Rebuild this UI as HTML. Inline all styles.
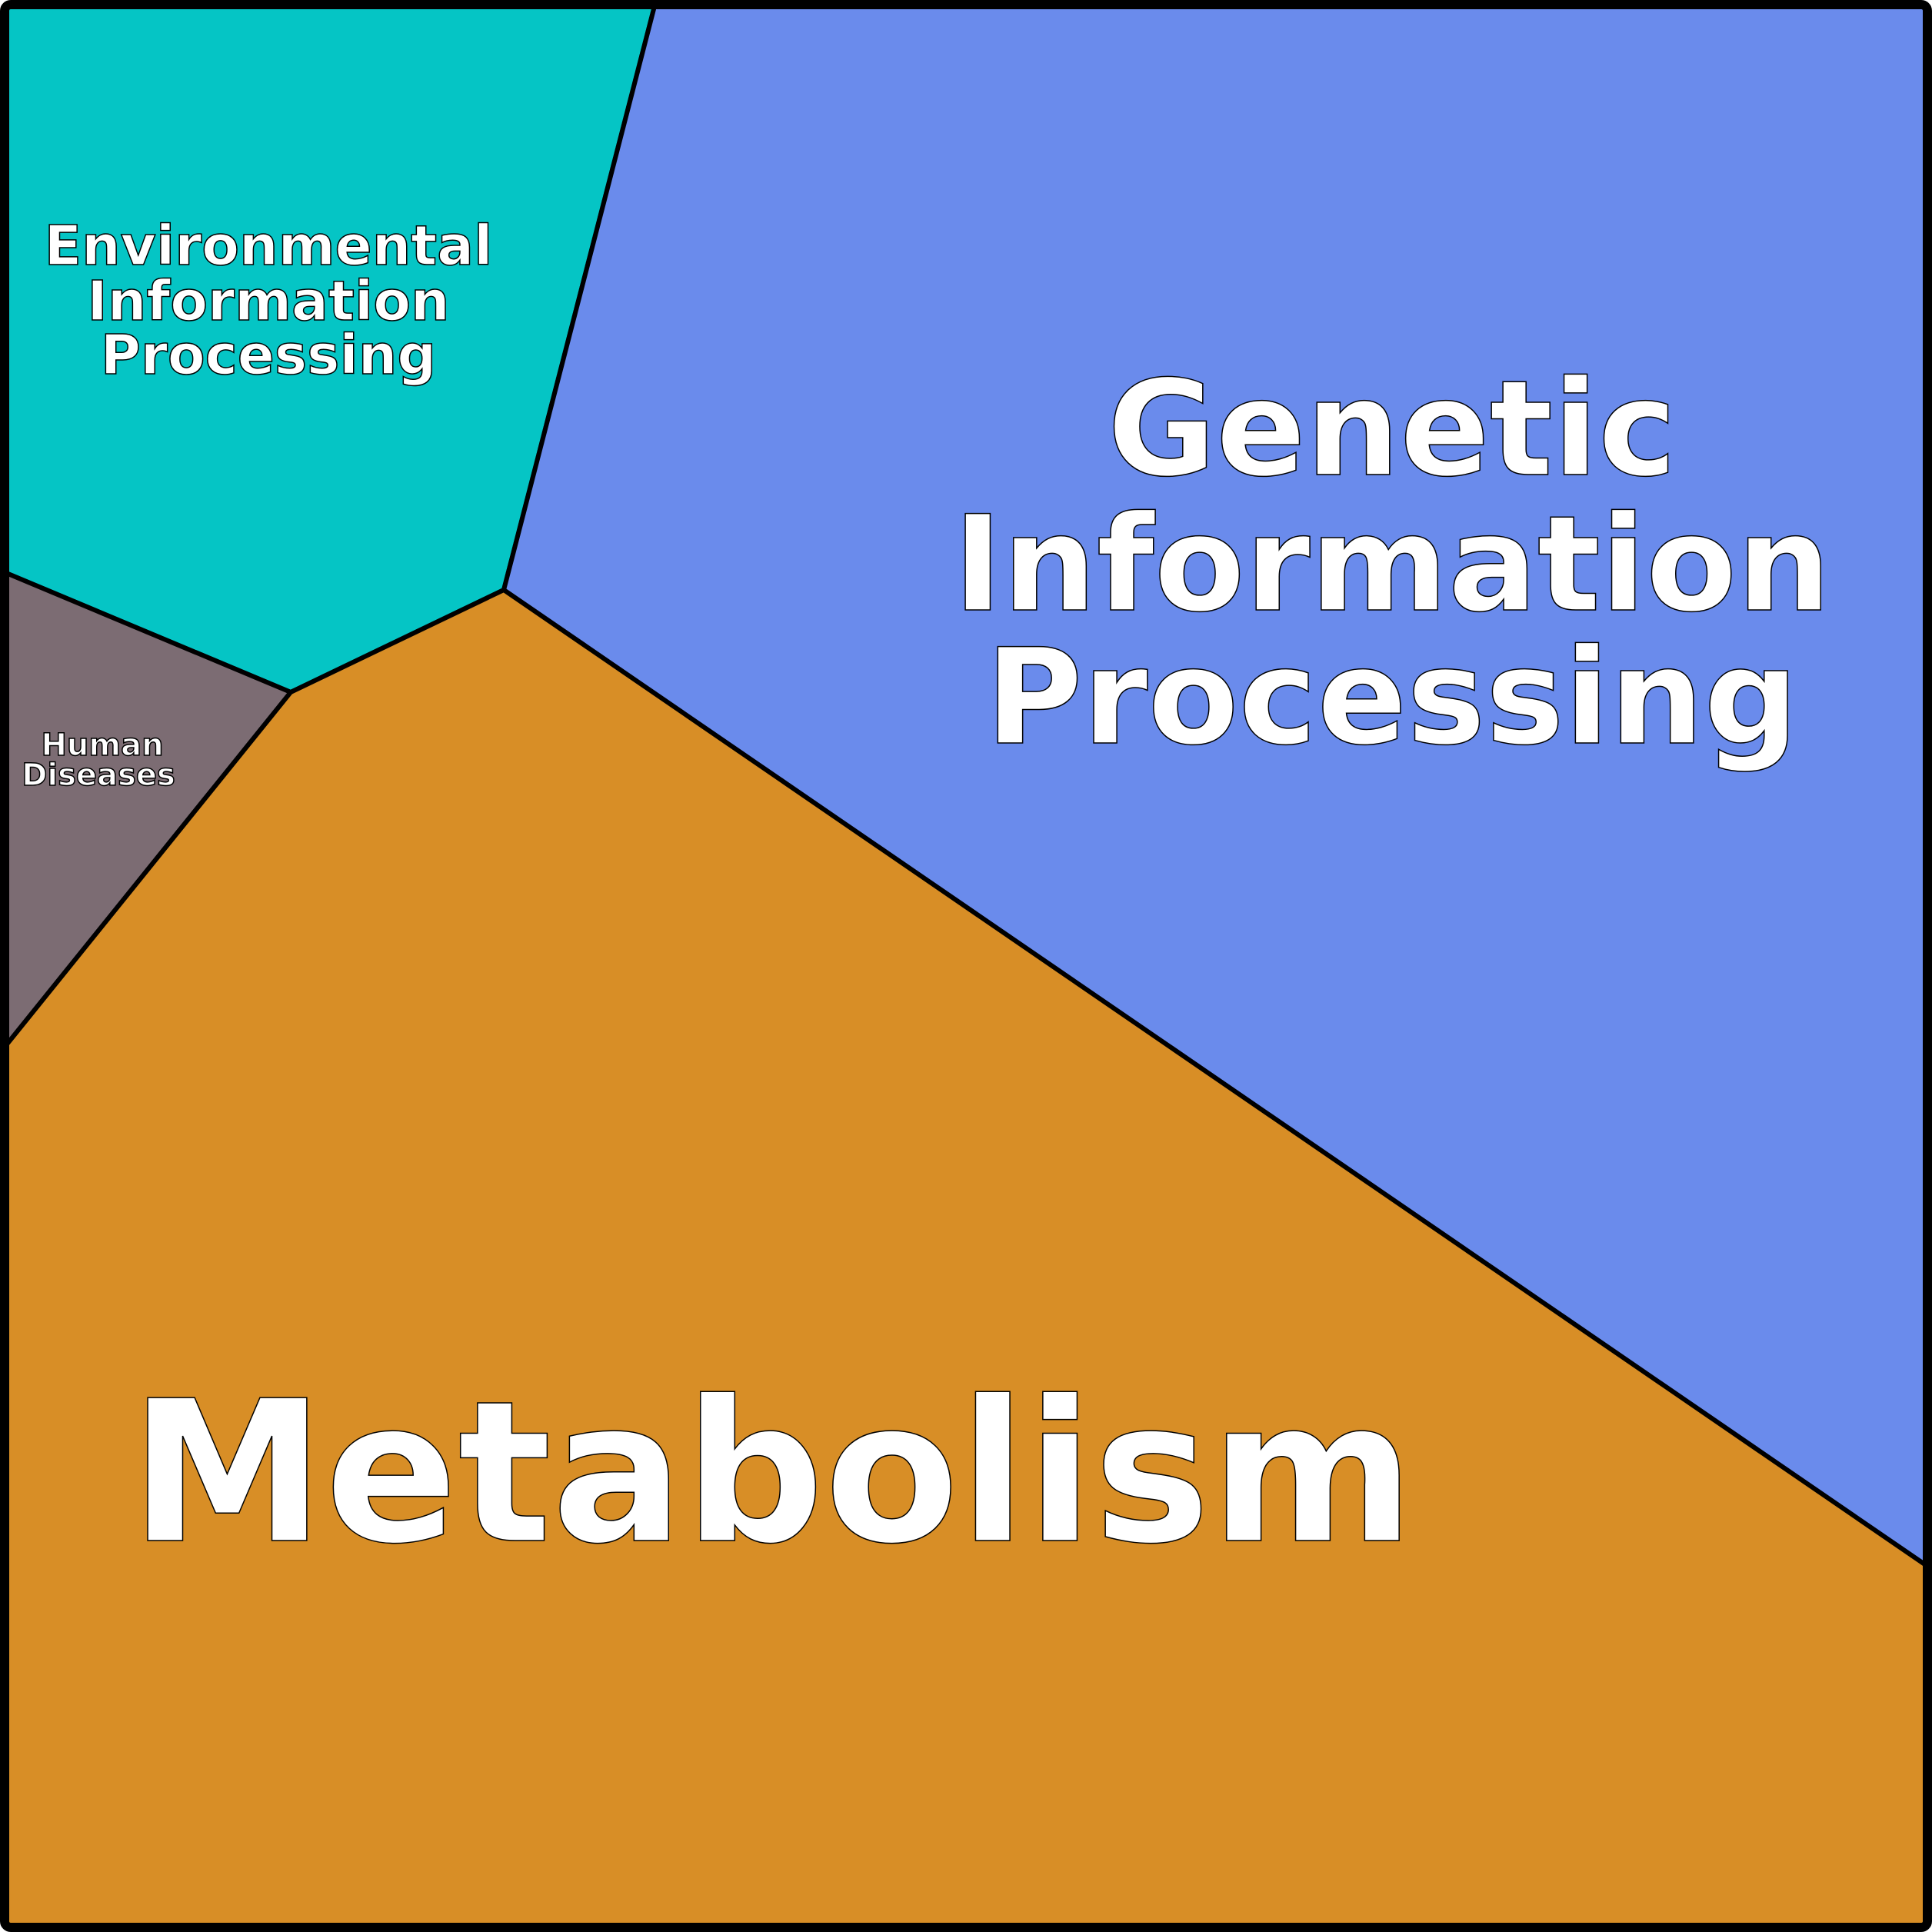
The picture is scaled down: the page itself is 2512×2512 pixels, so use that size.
<!DOCTYPE html>
<html><head><meta charset="utf-8"><style>html,body{margin:0;padding:0;background:#fff}svg{display:block}</style></head>
<body>
<svg width="2512" height="2512" viewBox="0 0 2512 2512" xmlns="http://www.w3.org/2000/svg">
<g stroke="#000" stroke-width="6" stroke-linejoin="round">
<polygon points="8,8 851,8 655,767 378,900 8,745" fill="#05C5C5"/>
<polygon points="851,8 2504,8 2504,2035 655,767" fill="#6A8BEC"/>
<polygon points="8,745 378,900 8,1359" fill="#7C6C73"/>
<polygon points="655,767 2504,2035 2504,2504 8,2504 8,1359 378,900" fill="#D88E26"/>
</g>
<rect x="6" y="6" width="2500" height="2500" rx="8" fill="none" stroke="#000" stroke-width="12"/>
<g font-family="'DejaVu Sans','Liberation Sans',sans-serif" font-weight="bold" fill="#fff" stroke="#000" stroke-width="1.5" text-anchor="middle">
<text x="1810" y="617" font-size="172">Genetic</text>
<text x="1810" y="793" font-size="172">Information</text>
<text x="1810" y="966" font-size="172">Processing</text>
<text x="1004" y="2003" font-size="255">Metabolism</text>
<text x="349" y="344" font-size="71">Environmental</text>
<text x="349" y="416" font-size="71">Information</text>
<text x="349" y="486" font-size="71">Processing</text>
<text x="133" y="982" font-size="40">Human</text>
<text x="128" y="1021" font-size="40">Diseases</text>
</g>
</svg>
</body></html>
